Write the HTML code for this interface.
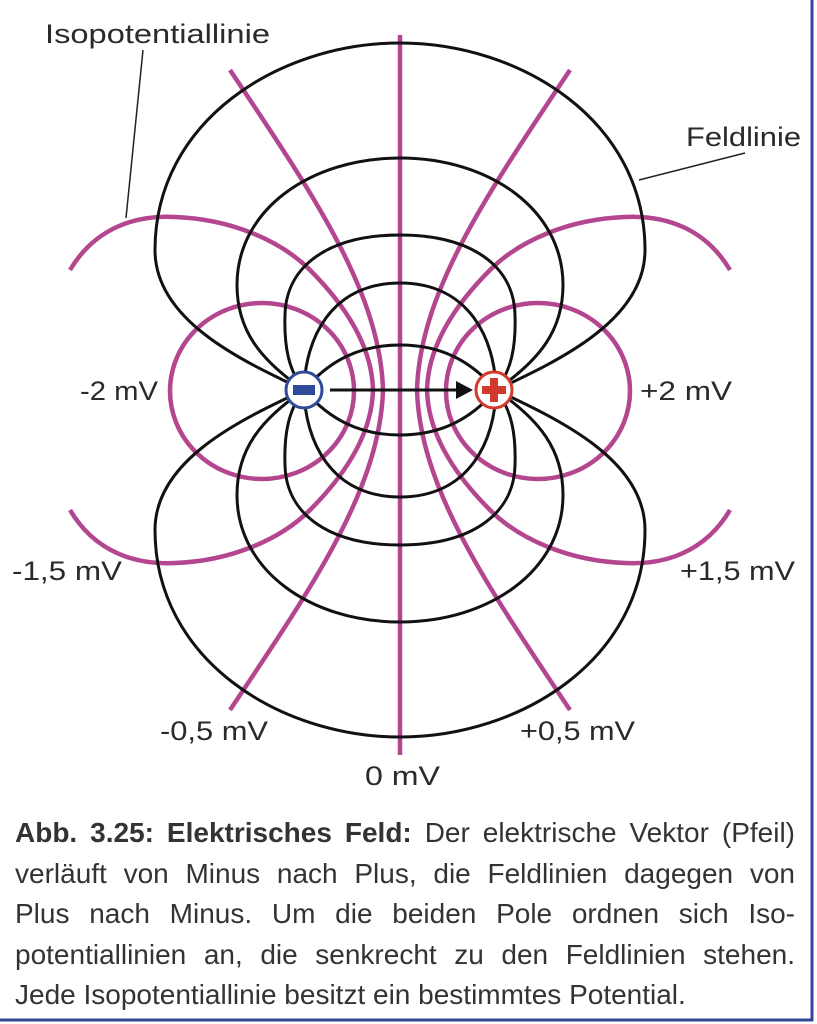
<!DOCTYPE html>
<html><head><meta charset="utf-8"><style>
html,body{margin:0;padding:0;background:#fff;}
body{width:817px;height:1024px;position:relative;overflow:hidden;}
svg{position:absolute;left:0;top:0;}
.lbl{font-family:"Liberation Sans",sans-serif;font-size:27px;fill:#2a2a2a;}
#caption{position:absolute;left:15px;top:813px;width:780px;font-family:"Liberation Sans",sans-serif;font-size:28px;color:#333;line-height:40.5px;}
#caption div{white-space:nowrap;text-align:justify;text-align-last:justify;}
#caption div.last{text-align-last:left;}
</style></head><body>
<svg width="817" height="1024" viewBox="0 0 817 1024">
  <g id="iso" fill="none" stroke="#b4468f" stroke-width="4.5"></g>
  <g id="field" fill="none" stroke="#111" stroke-width="3"></g>
  <line x1="330" y1="390" x2="458" y2="390" stroke="#111" stroke-width="3"/>
  <polygon points="456,381 473,390 456,399" fill="#111"/>
  <g>
    <circle cx="304" cy="390" r="18" fill="#fff" stroke="#2f4a9a" stroke-width="3"/>
    <rect x="293" y="385" width="22" height="10" fill="#2f4a9a"/>
  </g>
  <g>
    <circle cx="494" cy="390" r="18" fill="#fff" stroke="#d13a2c" stroke-width="3"/>
    <rect x="482" y="386" width="24" height="8" fill="#d13a2c"/>
    <rect x="490" y="378" width="8" height="24" fill="#d13a2c"/>
  </g>
  <line x1="143" y1="50" x2="126" y2="218" stroke="#222" stroke-width="1.5"/>
  <line x1="745" y1="153" x2="639" y2="180" stroke="#222" stroke-width="1.5"/>
  <text class="lbl" x="45" y="43" textLength="225" lengthAdjust="spacingAndGlyphs">Isopotentiallinie</text>
  <text class="lbl" x="686" y="146" textLength="115" lengthAdjust="spacingAndGlyphs">Feldlinie</text>
  <text class="lbl" x="80" y="400" textLength="78" lengthAdjust="spacingAndGlyphs">-2 mV</text>
  <text class="lbl" x="640" y="400" textLength="92" lengthAdjust="spacingAndGlyphs">+2 mV</text>
  <text class="lbl" x="12" y="580" textLength="110" lengthAdjust="spacingAndGlyphs">-1,5 mV</text>
  <text class="lbl" x="680" y="580" textLength="115" lengthAdjust="spacingAndGlyphs">+1,5 mV</text>
  <text class="lbl" x="160" y="740" textLength="108" lengthAdjust="spacingAndGlyphs">-0,5 mV</text>
  <text class="lbl" x="520" y="740" textLength="115" lengthAdjust="spacingAndGlyphs">+0,5 mV</text>
  <text class="lbl" x="365" y="785" textLength="75" lengthAdjust="spacingAndGlyphs">0 mV</text>
  <line x1="812" y1="0" x2="812" y2="1021" stroke="#33479a" stroke-width="3"/>
  <line x1="0" y1="1020" x2="813" y2="1020" stroke="#33479a" stroke-width="3"/>
</svg>
<div id="caption">
<div><b>Abb. 3.25: Elektrisches Feld:</b> Der elektrische Vektor (Pfeil)</div>
<div>verläuft von Minus nach Plus, die Feldlinien dagegen von</div>
<div>Plus nach Minus. Um die beiden Pole ordnen sich Iso-</div>
<div>potentiallinien an, die senkrecht zu den Feldlinien stehen.</div>
<div class="last">Jede Isopotentiallinie besitzt ein bestimmtes Potential.</div>
</div>
<script>
// Field-line quarter shapes (upper-left quadrant, from negative pole to top centre)
const fieldLoopNames = ['field-line-1','field-line-2','field-line-3','field-line-4','field-line-5'];
const fieldQuarters = [
  'M304,390 C240,360 155,320 155,250 C155,120 280,43 400,43',
  'M304,390 C260,360 237,330 237,285 C237,210 310,158 400,158',
  'M304,390 C288,370 284,345 285,315 C286,265 330,235 400,235',
  'M304,390 C305,340 330,283 400,283',
  'M304,390 C330,360 360,345 400,345'
];
const isoLevels = ['-2 mV','-1,5 mV','-0,5 mV','+0,5 mV','+1,5 mV','+2 mV'];
const isoQuarters = {
  '-1,5 mV':'M70,270 C95,228 135,215 175,217 C230,219 280,240 310,270 C350,310 372,350 373,390',
  '-0,5 mV':'M230,70 C310,190 380,290 383,390'
};
const NS='http://www.w3.org/2000/svg';
function tx(path, fx, fy){
  return path.replace(/(-?\d+(?:\.\d+)?),(-?\d+(?:\.\d+)?)/g,(m,a,b)=>{
    let x=+a,y=+b; if(fx) x=800-x; if(fy) y=780-y; return x+','+y;});
}
const fg=document.getElementById('field');
fieldQuarters.forEach((q,i)=>{
  [[0,0],[1,0],[0,1],[1,1]].forEach(([fx,fy])=>{
    const p=document.createElementNS(NS,'path');
    p.setAttribute('d',tx(q,fx,fy));
    
    
    fg.appendChild(p);
  });
});
const ig=document.getElementById('iso');
const zero=document.createElementNS(NS,'line');
zero.setAttribute('x1','400');zero.setAttribute('x2','400');zero.setAttribute('y1','35');zero.setAttribute('y2','755');


ig.appendChild(zero);
[['-2 mV',262],['+2 mV',538]].forEach(([lv,cx])=>{
  const e=document.createElementNS(NS,'ellipse');
  e.setAttribute('cx',cx);e.setAttribute('cy','391');e.setAttribute('rx','92');e.setAttribute('ry','88');
  
  
  ig.appendChild(e);
});
['-1,5 mV','-0,5 mV'].forEach(lv=>{
  const q=isoQuarters[lv];
  [[0,0],[0,1],[1,0],[1,1]].forEach(([fx,fy])=>{
    const p=document.createElementNS(NS,'path');
    p.setAttribute('d',tx(q,fx,fy));
    
    
    ig.appendChild(p);
  });
});
</script>
</body></html>
